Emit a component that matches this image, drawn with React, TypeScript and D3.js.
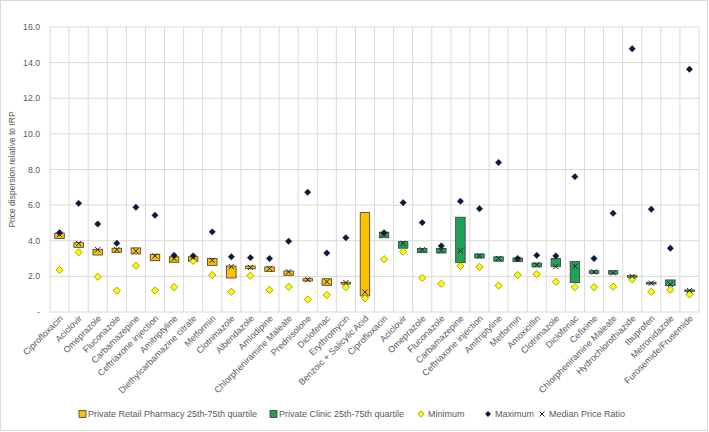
import React from "react";
import * as d3 from "d3";

const categories = [
  "Ciprofloxacin", "Aciclovir", "Omeprazole", "Fluconazole", "Carbamazepine", "Ceftriaxone injection",
  "Amitriptyline", "Diethylcarbamazine citrate", "Metformin", "Clotrimazole", "Albendazole", "Amlodipine",
  "Chlorpheniramine Maleate", "Prednisolone", "Diclofenac", "Erythromycin", "Benzoic + Salicylic Acid",
  "Ciprofloxacin", "Aciclovir", "Omeprazole", "Fluconazole", "Carbamazepine", "Ceftriaxone injection",
  "Amitriptyline", "Metformin", "Amoxicillin", "Clotrimazole", "Diclofenac", "Cefixime",
  "Chlorpheniramine Maleate", "Hydrochlorothiazide", "Ibuprofen", "Metronidazole", "Furosemide/Frusemide",
];
// 0 = Private Retail Pharmacy, 1 = Private Clinic
const sector = [0,0,0,0,0,0,0,0,0,0,0,0,0,0,0,0,0, 1,1,1,1,1,1,1,1,1,1,1,1,1,1,1,1,1];
const q25 = [4.13,3.63,3.2,3.35,3.26,2.88,2.79,2.85,2.62,1.91,2.43,2.28,2.06,1.74,1.5,1.57,0.9,
  4.17,3.58,3.33,3.31,2.77,3.03,2.85,2.83,2.53,2.54,1.65,2.17,2.13,1.95,1.57,1.48,1.16];
const q75 = [4.43,3.89,3.52,3.58,3.6,3.24,3.1,3.1,3.0,2.58,2.58,2.53,2.3,1.87,1.87,1.67,5.58,
  4.48,3.95,3.56,3.56,5.32,3.26,3.1,3.03,2.75,3.0,2.83,2.32,2.32,2.04,1.67,1.8,1.24];
const minimum = [2.36,3.35,1.98,1.2,2.6,1.2,1.4,2.87,2.08,1.14,2.04,1.24,1.42,0.7,0.95,1.4,0.77,
  2.96,3.39,1.91,1.59,2.58,2.53,1.48,2.08,2.13,1.7,1.4,1.4,1.42,1.84,1.14,1.25,0.99];
const maximum: (number | null)[] = [4.45,6.1,4.94,3.86,5.88,5.43,3.18,3.15,4.5,3.1,3.05,3.0,3.97,6.72,3.31,4.17,null,
  4.45,6.14,5.02,3.71,6.22,5.8,8.39,3.01,3.18,3.15,7.6,3.0,5.54,14.78,5.77,3.58,13.63];
const median = [4.35,3.85,3.5,3.5,3.43,3.15,3.0,3.05,2.9,2.55,2.5,2.45,2.25,1.82,1.7,1.65,1.12,
  4.35,3.85,3.5,3.45,3.44,3.15,3.0,2.95,2.65,2.55,2.58,2.25,2.2,2.0,1.62,1.55,1.2];
const yTicks = [0, 2, 4, 6, 8, 10, 12, 14, 16];
const legendItems = [
  "Private Retail Pharmacy 25th-75th quartile",
  "Private Clinic 25th-75th quartile",
  "Minimum",
  "Maximum",
  "Median Price Ratio",
];

const W = 709, H = 432;
const M = { left: 50, right: 699, top: 27, bottom: 312 };
const FONT = "'Liberation Sans', Arial, sans-serif";
const GRID = "#d9d9d9";
const TEXT = "#595959";
const RETAIL = "#FFC000";
const CLINIC = "#1FA257";

export default function App() {
  const idx = categories.map((_, i) => String(i));
  const x = d3.scaleBand<string>().domain(idx).range([M.left, M.right]);
  const y = d3.scaleLinear().domain([0, 16]).range([M.bottom, M.top]);
  const bw = 9.5;
  const cx = (i: number) => (x(String(i)) as number) + x.bandwidth() / 2;

  const diamond = (px: number, py: number, r: number) =>
    `M${px},${py - r}L${px + r},${py}L${px},${py + r}L${px - r},${py}Z`;
  const cross = (px: number, py: number, r: number) =>
    `M${px - r},${py - r}L${px + r},${py + r}M${px + r},${py - r}L${px - r},${py + r}`;

  const legendY = 414;
  const legendX = [79, 270, 421, 488, 542];

  return (
    <svg width={W} height={H} style={{ position: "absolute", left: 0, top: 0, background: "#fff" }}>
      <rect x={0.5} y={0.5} width={W - 2} height={H - 2} fill="#fff" stroke={GRID} />
      {yTicks.map((t) => (
        <line key={"h" + t} x1={M.left} x2={M.right} y1={y(t)} y2={y(t)} stroke={GRID} strokeWidth={1} />
      ))}
      {idx.map((d, i) => (
        <line key={"v" + i} x1={(x(d) as number)} x2={(x(d) as number)} y1={M.top} y2={M.bottom} stroke={GRID} />
      ))}
      <line x1={M.right} x2={M.right} y1={M.top} y2={M.bottom} stroke={GRID} />
      {yTicks.map((t) => (
        <text key={"yt" + t} x={40} y={y(t) + 3} textAnchor="end" fontSize={8.7} fill={TEXT} fontFamily={FONT}>
          {t === 0 ? "-" : t.toFixed(1)}
        </text>
      ))}
      <text
        transform={`translate(15,${(M.top + M.bottom) / 2}) rotate(-90)`}
        textAnchor="middle"
        fontSize={8.5}
        fill={TEXT}
        fontFamily={FONT}
      >
        Price dispersion relative to IRP
      </text>
      {categories.map((c, i) => (
        <text
          key={"xl" + i}
          transform={`translate(${cx(i) + 4},${M.bottom + 7}) rotate(-45)`}
          textAnchor="end"
          fontSize={9}
          fill={TEXT}
          fontFamily={FONT}
        >
          {c}
        </text>
      ))}
      {categories.map((_, i) => (
        <rect
          key={"b" + i}
          x={cx(i) - bw / 2}
          y={y(q75[i])}
          width={bw}
          height={Math.max(1, y(q25[i]) - y(q75[i]))}
          fill={sector[i] === 0 ? RETAIL : CLINIC}
          stroke="#3a3a3a"
          strokeWidth={0.8}
        />
      ))}
      {minimum.map((v, i) => (
        <path key={"mn" + i} d={diamond(cx(i), y(v), 3.6)} fill="#FFFF00" stroke="#8c8c00" strokeWidth={0.8} />
      ))}
      {maximum.map((v, i) =>
        v == null ? null : <path key={"mx" + i} d={diamond(cx(i), y(v), 3.2)} fill="#0b1a3d" stroke="#0b1a3d" strokeWidth={0.5} />
      )}
      {median.map((v, i) => (
        <path key={"md" + i} d={cross(cx(i), y(v), 2.6)} stroke="#222" strokeWidth={1} fill="none" />
      ))}
      <g fontFamily={FONT} fontSize={9} fill={TEXT}>
        <rect x={legendX[0]} y={legendY - 3.5} width={7} height={7} fill={RETAIL} stroke="#3a3a3a" strokeWidth={0.8} />
        <text x={legendX[0] + 9} y={legendY + 3.2}>{legendItems[0]}</text>
        <rect x={legendX[1]} y={legendY - 3.5} width={7} height={7} fill={CLINIC} stroke="#3a3a3a" strokeWidth={0.8} />
        <text x={legendX[1] + 9} y={legendY + 3.2}>{legendItems[1]}</text>
        <path d={diamond(legendX[2], legendY, 3.2)} fill="#FFFF00" stroke="#8c8c00" strokeWidth={0.8} />
        <text x={legendX[2] + 7} y={legendY + 3.2}>{legendItems[2]}</text>
        <path d={diamond(legendX[3], legendY, 3)} fill="#0b1a3d" />
        <text x={legendX[3] + 7} y={legendY + 3.2}>{legendItems[3]}</text>
        <path d={cross(legendX[4], legendY, 2.5)} stroke="#222" strokeWidth={1} />
        <text x={legendX[4] + 7} y={legendY + 3.2}>{legendItems[4]}</text>
      </g>
    </svg>
  );
}
